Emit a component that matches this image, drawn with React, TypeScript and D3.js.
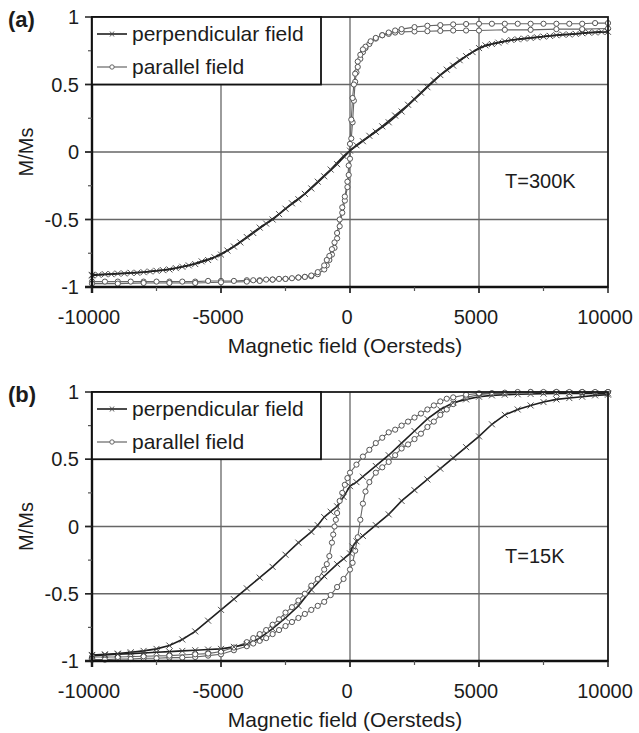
import * as d3 from 'd3'
import React, { useEffect, useRef } from 'react'

type Pt = [number, number]

// axis ticks
const xTicks = [-10000, -5000, 0, 5000, 10000]
const yTicks = [-1, -0.5, 0, 0.5, 1]
const xMinorTicks = [-7500, -2500, 2500, 7500]
const yMinorTicks = [-0.75, -0.25, 0.25, 0.75]
const xGrid = [-5000, 0, 5000]
const yGrid = [-0.5, 0, 0.5]
const legendLabels = ['perpendicular field', 'parallel field']
const panelLetters = ['(a)', '(b)']
const tempLabels = ['T=300K', 'T=15K']

// (a) T=300K, perpendicular field
const perp300Up: Pt[] = [
  [-10000, -0.91], [-9500, -0.905], [-9000, -0.9], [-8500, -0.895], [-8000, -0.89], [-7500, -0.88],
  [-7000, -0.87], [-6500, -0.85], [-6000, -0.83], [-5500, -0.8], [-5000, -0.76], [-4500, -0.7],
  [-4000, -0.63], [-3500, -0.56], [-3000, -0.5], [-2500, -0.42], [-2000, -0.35], [-1500, -0.27],
  [-1000, -0.18], [-500, -0.09], [0, 0.01], [500, 0.08], [1000, 0.15], [1500, 0.22], [2000, 0.3],
  [2500, 0.39], [3000, 0.48], [3500, 0.57], [4000, 0.64], [4500, 0.71], [5000, 0.77], [5500, 0.8],
  [6000, 0.82], [6500, 0.835], [7000, 0.845], [7500, 0.855], [8000, 0.865], [8500, 0.87],
  [9000, 0.88], [9500, 0.885], [10000, 0.89]
]
const perp300Down: Pt[] = [
  [9750, 0.89], [9250, 0.885], [8750, 0.875], [8250, 0.87], [7750, 0.86], [7250, 0.85], [6750, 0.84],
  [6250, 0.83], [5750, 0.81], [5250, 0.79], [4750, 0.74], [4250, 0.68], [3750, 0.61], [3250, 0.53],
  [2750, 0.44], [2250, 0.35], [1750, 0.27], [1250, 0.19], [750, 0.12], [250, 0.05], [-250, -0.03],
  [-750, -0.13], [-1250, -0.22], [-1750, -0.31], [-2250, -0.38], [-2750, -0.46], [-3250, -0.53],
  [-3750, -0.6], [-4250, -0.67], [-4750, -0.73], [-5250, -0.78], [-5750, -0.81], [-6250, -0.84],
  [-6750, -0.86], [-7250, -0.875], [-7750, -0.885], [-8250, -0.895], [-8750, -0.9], [-9250, -0.905],
  [-9750, -0.91], [-10000, -0.915]
]

// (a) T=300K, parallel field
const para300Up: Pt[] = [
  [-10000, -0.96], [-9500, -0.96], [-9000, -0.96], [-8500, -0.96], [-8000, -0.96], [-7500, -0.96],
  [-7000, -0.96], [-6500, -0.96], [-6000, -0.96], [-5500, -0.955], [-5000, -0.955], [-4500, -0.955],
  [-4000, -0.95], [-3750, -0.95], [-3500, -0.95], [-3250, -0.945], [-3000, -0.945], [-2750, -0.94],
  [-2500, -0.94], [-2250, -0.935], [-2000, -0.93], [-1750, -0.925], [-1500, -0.92], [-1250, -0.905],
  [-1000, -0.87], [-900, -0.84], [-800, -0.8], [-700, -0.76], [-600, -0.71], [-500, -0.64],
  [-400, -0.55], [-300, -0.45], [-200, -0.36], [-100, -0.26], [-50, -0.17], [0, -0.05], [50, 0.1],
  [100, 0.22], [150, 0.38], [200, 0.52], [250, 0.59], [300, 0.63], [400, 0.69], [500, 0.74],
  [600, 0.77], [750, 0.8], [1000, 0.84], [1250, 0.865], [1500, 0.875], [1750, 0.885], [2000, 0.89],
  [2500, 0.893], [3000, 0.895], [3500, 0.897], [4000, 0.9], [4500, 0.9], [5000, 0.9], [6000, 0.905],
  [7000, 0.905], [8000, 0.91], [9000, 0.91], [10000, 0.915]
]
const para300Down: Pt[] = [
  [10000, 0.955], [9500, 0.955], [9000, 0.95], [8500, 0.95], [8000, 0.95], [7500, 0.95], [7000, 0.95],
  [6500, 0.95], [6000, 0.95], [5500, 0.95], [5000, 0.95], [4500, 0.948], [4000, 0.945], [3500, 0.94],
  [3000, 0.935], [2500, 0.925], [2000, 0.91], [1750, 0.9], [1500, 0.885], [1250, 0.865], [1000, 0.845],
  [800, 0.82], [600, 0.78], [500, 0.76], [400, 0.72], [300, 0.67], [200, 0.58], [150, 0.5], [100, 0.4],
  [50, 0.24], [0, 0.06], [-50, -0.1], [-100, -0.22], [-200, -0.33], [-300, -0.41], [-400, -0.5],
  [-500, -0.6], [-600, -0.67], [-700, -0.72], [-800, -0.77], [-900, -0.8], [-1000, -0.84],
  [-1250, -0.89], [-1500, -0.915], [-1750, -0.925], [-2000, -0.93], [-2500, -0.94], [-3000, -0.945],
  [-3500, -0.955], [-4000, -0.96], [-5000, -0.965], [-6000, -0.97], [-7000, -0.97], [-8000, -0.97],
  [-9000, -0.975], [-10000, -0.975]
]

// (b) T=15K, perpendicular field
const perp15Up: Pt[] = [
  [-10000, -0.96], [-9500, -0.955], [-9000, -0.95], [-8500, -0.945], [-8000, -0.94], [-7500, -0.935],
  [-7000, -0.93], [-6500, -0.925], [-6000, -0.92], [-5500, -0.915], [-5000, -0.91], [-4500, -0.895],
  [-4000, -0.875], [-3500, -0.83], [-3000, -0.76], [-2500, -0.68], [-2000, -0.59], [-1500, -0.47],
  [-1000, -0.37], [-500, -0.28], [-250, -0.24], [0, -0.2], [100, -0.15], [250, -0.11], [500, -0.07],
  [1000, 0.01], [1500, 0.09], [2000, 0.19], [2500, 0.27], [3000, 0.35], [3500, 0.43], [4000, 0.51],
  [4500, 0.59], [5000, 0.67], [5500, 0.76], [6000, 0.83], [6500, 0.87], [7000, 0.9], [7500, 0.925],
  [8000, 0.945], [8500, 0.955], [9000, 0.965], [9500, 0.975], [10000, 0.98]
]
const perp15Down: Pt[] = [
  [10000, 0.99], [9500, 0.99], [9000, 0.99], [8500, 0.99], [8000, 0.99], [7500, 0.988], [7000, 0.985],
  [6500, 0.983], [6000, 0.98], [5500, 0.975], [5000, 0.965], [4500, 0.945], [4000, 0.92], [3500, 0.87],
  [3000, 0.8], [2500, 0.71], [2000, 0.62], [1500, 0.53], [1000, 0.45], [500, 0.37], [250, 0.33],
  [0, 0.3], [-250, 0.22], [-500, 0.15], [-750, 0.11], [-1000, 0.07], [-1250, 0.01], [-1500, -0.04],
  [-2000, -0.12], [-2500, -0.21], [-3000, -0.3], [-3500, -0.38], [-4000, -0.46], [-4500, -0.54],
  [-5000, -0.62], [-5500, -0.7], [-6000, -0.78], [-6500, -0.84], [-7000, -0.885], [-7500, -0.91],
  [-8000, -0.925], [-8500, -0.935], [-9000, -0.945], [-9500, -0.95], [-10000, -0.955]
]

// (b) T=15K, parallel field
const para15Up: Pt[] = [
  [-10000, -0.99], [-9500, -0.99], [-9000, -0.985], [-8500, -0.985], [-8000, -0.98], [-7500, -0.98],
  [-7000, -0.975], [-6500, -0.975], [-6000, -0.97], [-5500, -0.96], [-5000, -0.95], [-4500, -0.92],
  [-4000, -0.89], [-3750, -0.87], [-3500, -0.85], [-3250, -0.83], [-3000, -0.8], [-2750, -0.77],
  [-2500, -0.74], [-2250, -0.71], [-2000, -0.68], [-1750, -0.65], [-1500, -0.62], [-1250, -0.59],
  [-1000, -0.56], [-750, -0.51], [-500, -0.45], [-250, -0.39], [0, -0.32], [100, -0.27], [200, -0.18],
  [300, -0.08], [400, 0.05], [500, 0.17], [600, 0.26], [750, 0.33], [1000, 0.4], [1250, 0.44],
  [1500, 0.48], [1750, 0.53], [2000, 0.58], [2250, 0.61], [2500, 0.65], [2750, 0.69], [3000, 0.74],
  [3250, 0.78], [3500, 0.83], [3750, 0.87], [4000, 0.91], [4500, 0.96], [5000, 0.98], [5500, 0.99],
  [6000, 0.99], [7000, 1.0], [8000, 1.0], [9000, 1.0], [10000, 1.0]
]
const para15Down: Pt[] = [
  [10000, 1.0], [9500, 1.0], [9000, 1.0], [8500, 1.0], [8000, 1.0], [7500, 1.0], [7000, 1.0],
  [6500, 1.0], [6000, 0.995], [5500, 0.99], [5000, 0.99], [4500, 0.98], [4000, 0.96], [3750, 0.95],
  [3500, 0.93], [3250, 0.9], [3000, 0.87], [2750, 0.84], [2500, 0.81], [2250, 0.78], [2000, 0.75],
  [1750, 0.72], [1500, 0.7], [1250, 0.66], [1000, 0.62], [750, 0.57], [500, 0.52], [250, 0.46],
  [0, 0.4], [-100, 0.36], [-200, 0.31], [-300, 0.25], [-400, 0.19], [-500, 0.1], [-550, 0.05],
  [-600, 0.0], [-650, -0.06], [-700, -0.12], [-800, -0.22], [-900, -0.28], [-1000, -0.32],
  [-1250, -0.39], [-1500, -0.44], [-1750, -0.5], [-2000, -0.55], [-2250, -0.6], [-2500, -0.64],
  [-2750, -0.69], [-3000, -0.73], [-3250, -0.77], [-3500, -0.8], [-3750, -0.83], [-4000, -0.86],
  [-4500, -0.9], [-5000, -0.93], [-5500, -0.945], [-6000, -0.95], [-7000, -0.96], [-8000, -0.965],
  [-9000, -0.97], [-10000, -0.97]
]

const FONT = '"Liberation Sans", Arial, sans-serif'
const TEXT = '#1c1c1c'
const PERP = '#1e1e1e'
const PARA = '#666666'

const App = () => {
  const svgRef = useRef(null)

  const width = 639
  const height = 733
  const left = 92
  const right = 608
  const panelTops = [17, 392]
  const panelBottoms = [287, 661]

  useEffect(() => {
    if (!svgRef.current) return
    const root = d3.select(svgRef.current)
    root.selectAll('*').remove()

    const panelData = [
      { perp: [perp300Up, perp300Down], para: [para300Up, para300Down] },
      { perp: [perp15Up, perp15Down], para: [para15Up, para15Down] }
    ]

    panelData.forEach((pd, i) => {
      const top = panelTops[i]
      const bottom = panelBottoms[i]
      const x = d3.scaleLinear().domain([-10000, 10000]).range([left, right])
      const y = d3.scaleLinear().domain([-1, 1]).range([bottom, top])
      const g = root.append('g')

      // grid
      g.selectAll('.gx').data(xGrid).enter().append('line')
        .attr('x1', (d) => x(d)).attr('x2', (d) => x(d))
        .attr('y1', top).attr('y2', bottom + 6)
        .attr('stroke', '#666').attr('stroke-width', 1.3)
      g.selectAll('.gy').data(yGrid).enter().append('line')
        .attr('x1', left - 7).attr('x2', right)
        .attr('y1', (d) => y(d)).attr('y2', (d) => y(d))
        .attr('stroke', '#666').attr('stroke-width', 1.3)

      // curves
      const line = d3.line<Pt>().x((d) => x(d[0])).y((d) => y(d[1]))
      pd.para.forEach((s) => {
        g.append('path').datum(s).attr('d', line)
          .attr('fill', 'none').attr('stroke', PARA).attr('stroke-width', 1.1)
      })
      pd.perp.forEach((s) => {
        g.append('path').datum(s).attr('d', line)
          .attr('fill', 'none').attr('stroke', PERP).attr('stroke-width', 1.6)
      })
      pd.para.forEach((s) => {
        g.append('g').selectAll('circle').data(s).enter().append('circle')
          .attr('cx', (d) => x(d[0])).attr('cy', (d) => y(d[1])).attr('r', 2.6)
          .attr('fill', 'white').attr('stroke', '#555').attr('stroke-width', 1)
      })
      pd.perp.forEach((s) => {
        g.append('g').selectAll('path').data(s).enter().append('path')
          .attr('transform', (d) => `translate(${x(d[0])},${y(d[1])})`)
          .attr('d', 'M-3,-3L3,3M-3,3L3,-3')
          .attr('stroke', '#3a3a3a').attr('stroke-width', 0.9)
      })

      // frame
      g.append('rect')
        .attr('x', left).attr('y', top)
        .attr('width', right - left).attr('height', bottom - top)
        .attr('fill', 'none').attr('stroke', '#1a1a1a').attr('stroke-width', 1.8)
      g.append('line').attr('x1', left).attr('x2', left).attr('y1', top).attr('y2', bottom + 6)
        .attr('stroke', '#111').attr('stroke-width', 2.4)
      g.append('line').attr('x1', left - 7).attr('x2', right).attr('y1', bottom).attr('y2', bottom)
        .attr('stroke', '#111').attr('stroke-width', 2.4)

      // ticks
      g.selectAll('.ty').data(yTicks).enter().append('line')
        .attr('x1', left - 7).attr('x2', left)
        .attr('y1', (d) => y(d)).attr('y2', (d) => y(d))
        .attr('stroke', '#222').attr('stroke-width', 1.5)
      g.selectAll('.tym').data(yMinorTicks).enter().append('line')
        .attr('x1', left - 4).attr('x2', left)
        .attr('y1', (d) => y(d)).attr('y2', (d) => y(d))
        .attr('stroke', '#555').attr('stroke-width', 1.2)
      g.selectAll('.tx').data(xTicks).enter().append('line')
        .attr('x1', (d) => x(d)).attr('x2', (d) => x(d))
        .attr('y1', bottom).attr('y2', bottom + 6)
        .attr('stroke', '#222').attr('stroke-width', 1.5)
      g.selectAll('.txm').data(xMinorTicks).enter().append('line')
        .attr('x1', (d) => x(d)).attr('x2', (d) => x(d))
        .attr('y1', bottom).attr('y2', bottom + 4)
        .attr('stroke', '#555').attr('stroke-width', 1.2)

      // tick labels
      g.selectAll('.ly').data(yTicks).enter().append('text')
        .attr('x', left - 13).attr('y', (d) => y(d)).attr('dy', '0.36em')
        .attr('text-anchor', 'end').attr('font-size', 20).attr('font-family', FONT).attr('fill', TEXT)
        .text((d) => String(d))
      g.selectAll('.lx').data(xTicks).enter().append('text')
        .attr('x', (d) => x(d) - 3).attr('y', bottom + 37)
        .attr('text-anchor', 'middle').attr('font-size', 20).attr('font-family', FONT).attr('fill', TEXT)
        .text((d) => String(d))

      // axis titles
      g.append('text')
        .attr('x', 345).attr('y', bottom + 66)
        .attr('text-anchor', 'middle').attr('font-size', 21).attr('font-family', FONT).attr('fill', TEXT)
        .text('Magnetic field (Oersteds)')
      g.append('text')
        .attr('transform', `translate(33,${y(0)}) rotate(-90)`)
        .attr('text-anchor', 'middle').attr('font-size', 20).attr('font-family', FONT).attr('fill', TEXT)
        .text('M/Ms')

      // panel letter and temperature
      g.append('text')
        .attr('x', 8).attr('y', top + 10)
        .attr('font-size', 22).attr('font-weight', 'bold').attr('font-family', FONT).attr('fill', TEXT)
        .text(panelLetters[i])
      g.append('text')
        .attr('x', 505).attr('y', y(-0.27))
        .attr('font-size', 20).attr('font-family', FONT).attr('fill', TEXT)
        .text(tempLabels[i])

      // legend
      const lg = g.append('g')
      lg.append('rect')
        .attr('x', left).attr('y', top)
        .attr('width', 229).attr('height', y(0.5) - top)
        .attr('fill', 'white').attr('stroke', '#111').attr('stroke-width', 1.8)
      legendLabels.forEach((label, k) => {
        const ly = top + 17 + k * 33
        lg.append('line').attr('x1', left + 5).attr('x2', left + 35).attr('y1', ly).attr('y2', ly)
          .attr('stroke', k === 0 ? PERP : PARA).attr('stroke-width', k === 0 ? 1.6 : 1.2)
        if (k === 0) {
          lg.append('path')
            .attr('transform', `translate(${left + 20},${ly})`)
            .attr('d', 'M-2,-2.5L2,2.5M-2,2.5L2,-2.5')
            .attr('stroke', '#444').attr('stroke-width', 0.9)
        } else {
          lg.append('circle').attr('cx', left + 20).attr('cy', ly).attr('r', 2.2)
            .attr('fill', 'white').attr('stroke', PARA).attr('stroke-width', 1)
        }
        lg.append('text')
          .attr('x', left + 40).attr('y', ly + 7)
          .attr('font-size', 21).attr('font-family', FONT).attr('fill', TEXT)
          .text(label)
      })
    })
  }, [])

  return (
    <div style={ { position: 'absolute', left: 0, top: 0, width, height, background: '#fff' } }>
      <svg ref={ svgRef } width={ width } height={ height } style={ { display: 'block' } }></svg>
    </div>
  )
}

export default App
